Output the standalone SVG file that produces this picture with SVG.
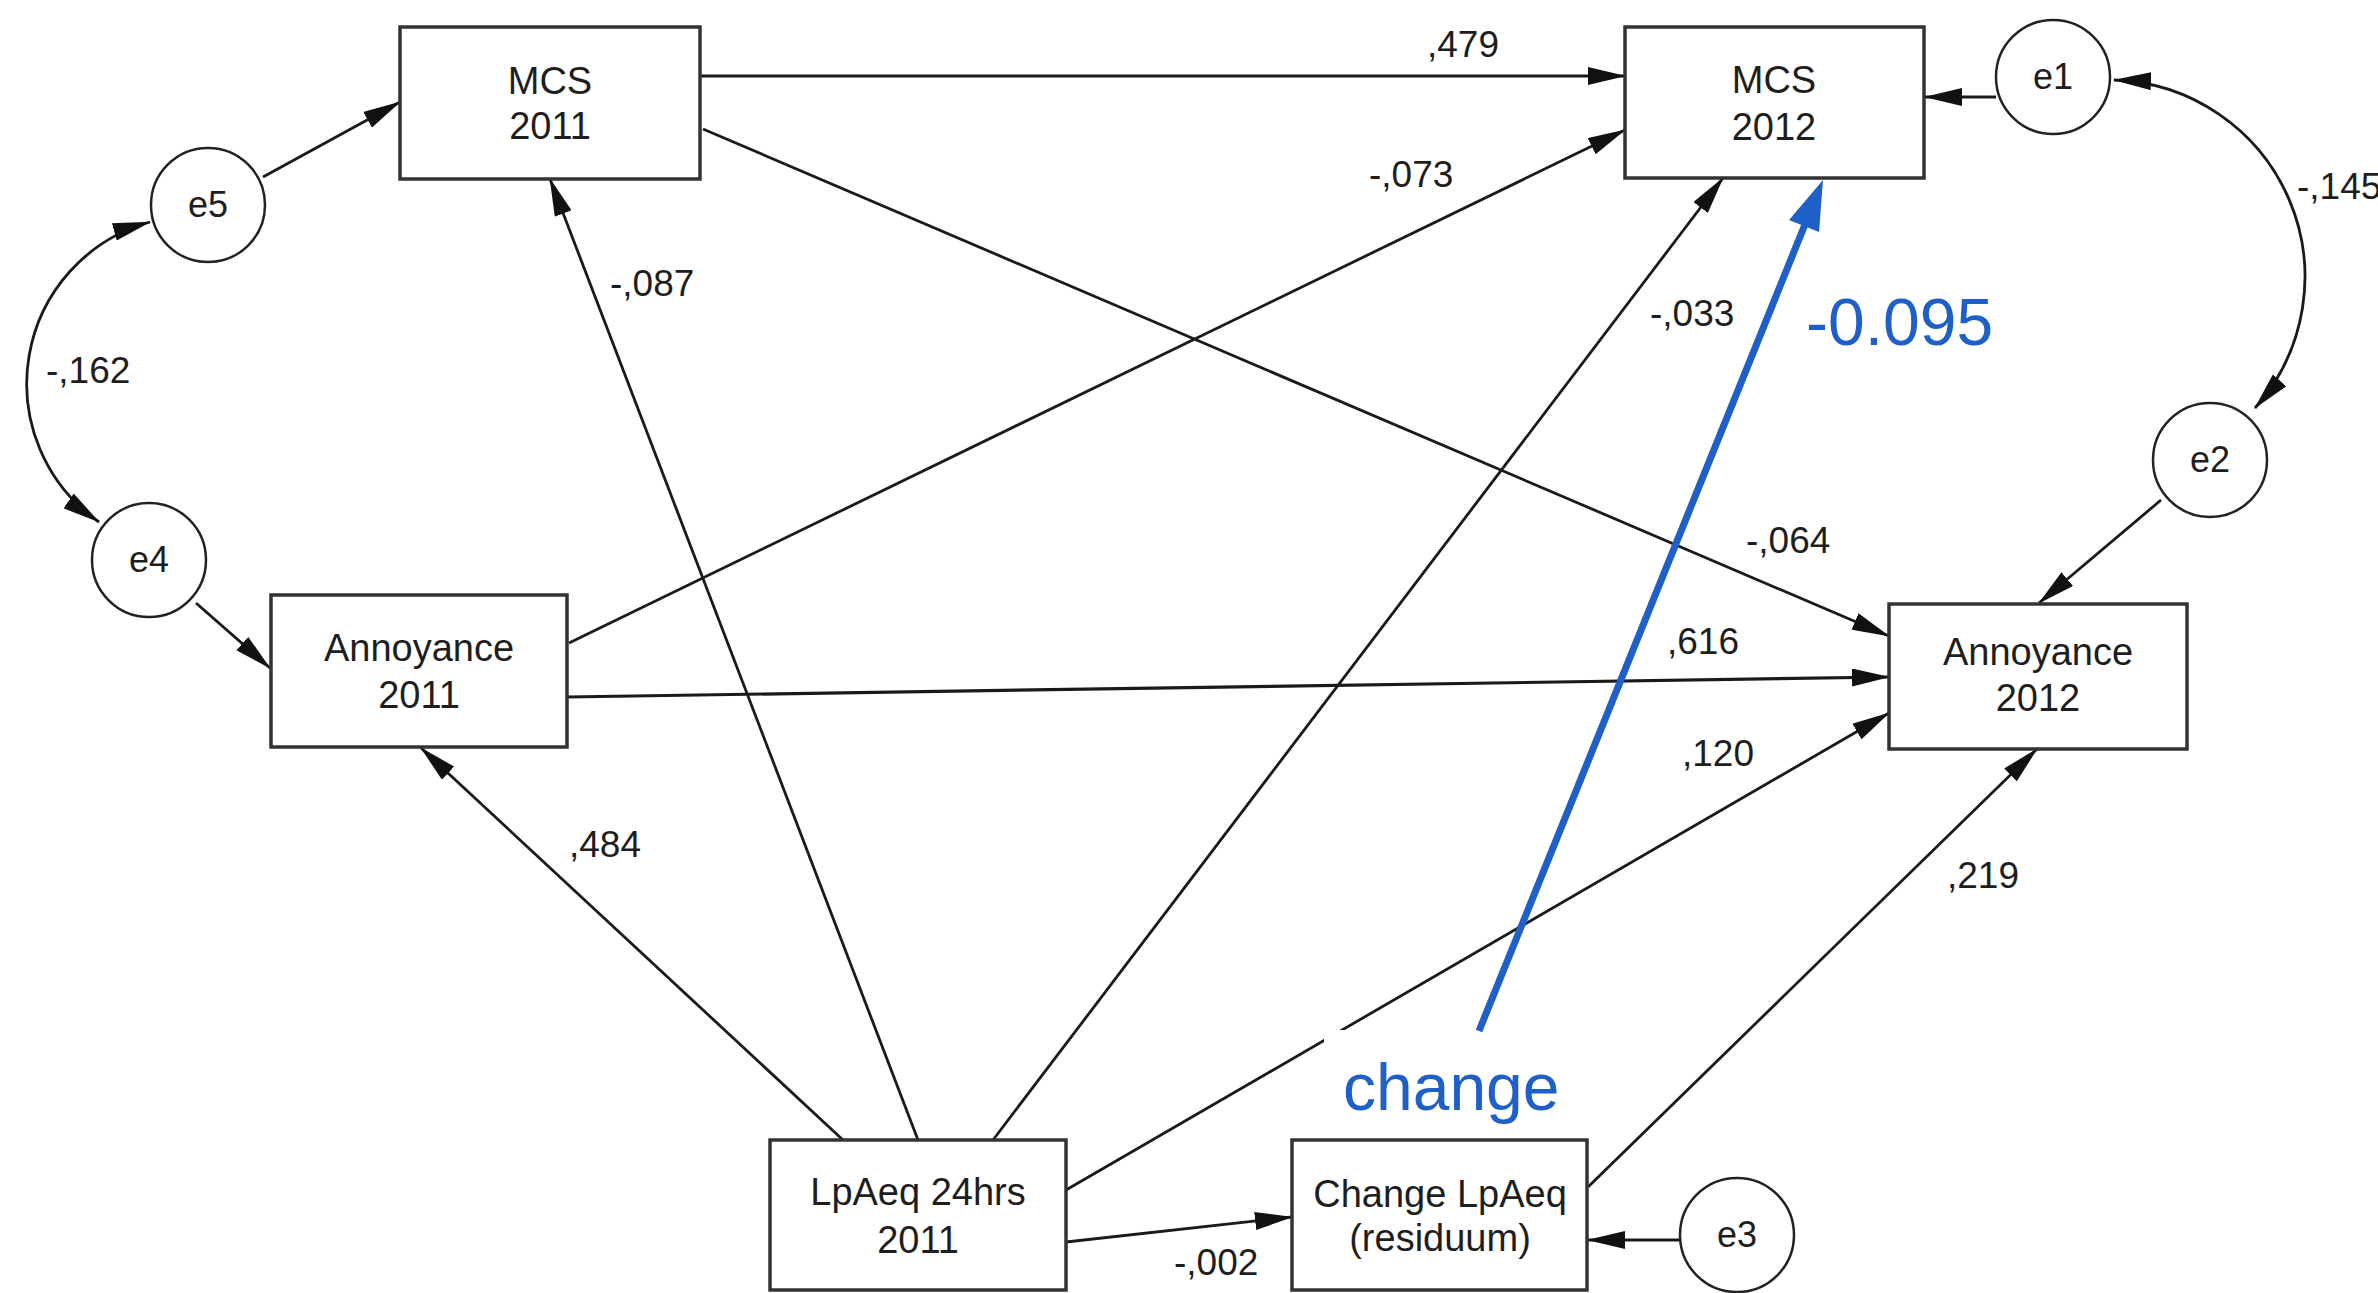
<svg xmlns="http://www.w3.org/2000/svg" width="2378" height="1293" viewBox="0 0 2378 1293">
  <defs>
    <marker id="ah" markerUnits="userSpaceOnUse" markerWidth="38" markerHeight="18" viewBox="0 0 38 18" refX="37" refY="9" orient="auto-start-reverse">
      <path d="M0,0 L38,9 L0,18 Z" fill="#111"/>
    </marker>
    <style>
      .bg { fill: #ffffff; }
      .box { fill: #ffffff; stroke: #333333; stroke-width: 3.5; }
      .circ { fill: #ffffff; stroke: #222222; stroke-width: 2.5; }
      .lbl { font-family: "Liberation Sans", Arial, sans-serif; font-size: 38px; fill: #1e1e1e; text-anchor: middle; }
      .num { font-family: "Liberation Sans", Arial, sans-serif; font-size: 37px; fill: #1e1e1e; }
      .edge { fill: none; stroke: #1a1a1a; stroke-width: 2.8; marker-end: url(#ah); }
      .edge2 { fill: none; stroke: #1a1a1a; stroke-width: 2.8; marker-start: url(#ah); marker-end: url(#ah); }
      .blue { font-family: "Liberation Sans", Arial, sans-serif; font-size: 66px; fill: #1e5fc8; }
    </style>
  </defs>
  <rect class="bg" x="0" y="0" width="2378" height="1293"/>

  <g id="connectors">
    <line class="edge" x1="263" y1="177" x2="400" y2="102"/>
    <path class="edge2" d="M150,222 A168,168 0 0 0 99,522"/>
    <line class="edge" x1="701" y1="76" x2="1625" y2="76" style="stroke-width:3.2"/>
    <line class="edge" x1="703" y1="129" x2="1889" y2="636"/>
    <line class="edge" x1="569" y1="643" x2="1625" y2="130"/>
    <line class="edge" x1="567" y1="697" x2="1889" y2="677" style="stroke-width:3.2"/>
    <line class="edge" x1="843" y1="1140" x2="421" y2="748"/>
    <line class="edge" x1="918" y1="1140" x2="550" y2="179"/>
    <line class="edge" x1="993" y1="1140" x2="1723" y2="178"/>
    <line class="edge" x1="1066" y1="1190" x2="1889" y2="713"/>
    <line class="edge" x1="1066" y1="1242" x2="1292" y2="1217"/>
    <line class="edge" x1="1588" y1="1187" x2="2037" y2="749"/>
    <line class="edge" x1="1996" y1="97" x2="1925" y2="97"/>
    <line class="edge" x1="1680" y1="1240" x2="1588" y2="1240"/>
    <line class="edge" x1="2161" y1="500" x2="2039" y2="603"/>
    <path class="edge2" d="M2114,80 A197,197 0 0 1 2255,408"/>
    <line class="edge" x1="196" y1="603" x2="270" y2="668"/>

    <text class="num" x="1427" y="57">,479</text>
    <text class="num" x="1369" y="187">-,073</text>
    <text class="num" x="610" y="296">-,087</text>
    <text class="num" x="46" y="383">-,162</text>
    <text class="num" x="1650" y="326">-,033</text>
    <text class="num" x="2297" y="199">-,145</text>
    <text class="num" x="1746" y="553">-,064</text>
    <text class="num" x="1667" y="654">,616</text>
    <text class="num" x="1682" y="766">,120</text>
    <text class="num" x="569" y="857">,484</text>
    <text class="num" x="1947" y="888">,219</text>
    <text class="num" x="1174" y="1275">-,002</text>
  </g>

  <g id="mcs2011">
    <rect class="box" x="400" y="27" width="300" height="152"/>
    <text class="lbl" x="550" y="94">MCS</text>
    <text class="lbl" x="550" y="139">2011</text>
  </g>
  <g id="mcs2012">
    <rect class="box" x="1625" y="27" width="299" height="151"/>
    <text class="lbl" x="1774" y="93">MCS</text>
    <text class="lbl" x="1774" y="140">2012</text>
  </g>
  <g id="annoyance2011">
    <rect class="box" x="271" y="595" width="296" height="152"/>
    <text class="lbl" x="419" y="661">Annoyance</text>
    <text class="lbl" x="419" y="708">2011</text>
  </g>
  <g id="annoyance2012">
    <rect class="box" x="1889" y="604" width="298" height="145"/>
    <text class="lbl" x="2038" y="665">Annoyance</text>
    <text class="lbl" x="2038" y="711">2012</text>
  </g>
  <g id="lpaeq2011">
    <rect class="box" x="770" y="1140" width="296" height="150"/>
    <text class="lbl" x="918" y="1205">LpAeq 24hrs</text>
    <text class="lbl" x="918" y="1253">2011</text>
  </g>
  <g id="changelpaeq">
    <rect class="box" x="1292" y="1140" width="295" height="150"/>
    <text class="lbl" x="1440" y="1207">Change LpAeq</text>
    <text class="lbl" x="1440" y="1251">(residuum)</text>
  </g>
  <g id="e1">
    <circle class="circ" cx="2053" cy="77" r="57"/>
    <text class="lbl" x="2053" y="89" style="font-size:36px">e1</text>
  </g>
  <g id="e2">
    <circle class="circ" cx="2210" cy="460" r="57"/>
    <text class="lbl" x="2210" y="472" style="font-size:36px">e2</text>
  </g>
  <g id="e3">
    <circle class="circ" cx="1737" cy="1235" r="57"/>
    <text class="lbl" x="1737" y="1247" style="font-size:36px">e3</text>
  </g>
  <g id="e4">
    <circle class="circ" cx="149" cy="560" r="57"/>
    <text class="lbl" x="149" y="572" style="font-size:36px">e4</text>
  </g>
  <g id="e5">
    <circle class="circ" cx="208" cy="205" r="57"/>
    <text class="lbl" x="208" y="217" style="font-size:36px">e5</text>
  </g>

  <g id="annotation">
    <rect x="1324" y="1030" width="260" height="107" fill="#ffffff"/>
    <line x1="1479" y1="1031" x2="1806" y2="222" stroke="#1e5fc8" stroke-width="7"/>
    <polygon points="1823,180 1819,232 1789,220" fill="#1e5fc8"/>
    <text class="blue" x="1806" y="345">-0.095</text>
    <text class="blue" x="1343" y="1110">change</text>
  </g>
</svg>
